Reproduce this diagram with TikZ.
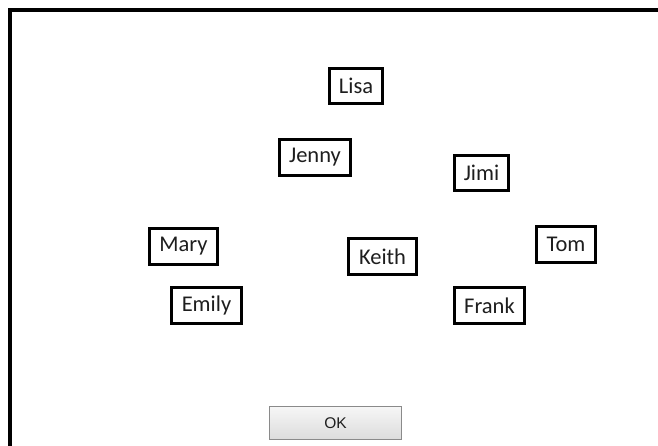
\documentclass[tikz,border=0pt]{standalone}
\usepackage{fontspec}
\setmainfont{Carlito}
\newfontfamily\btnfont{Liberation Sans}
\definecolor{txt}{HTML}{1E1E1E}
\definecolor{btnedge}{HTML}{8A8A8A}
\definecolor{btntop}{HTML}{F6F6F6}
\definecolor{btnbot}{HTML}{DCDCDC}
\begin{document}
\begin{tikzpicture}[x=1pt,y=-1pt,
  namebox/.style={draw=black, line width=2.6pt, text=txt, font=\fontsize{22.5}{25}\selectfont, inner sep=0pt, rectangle},
  okbtn/.style={draw=btnedge, line width=1.2pt, top color=btntop, bottom color=btnbot, text=txt, font=\btnfont\fontsize{15.5}{17}\selectfont, inner sep=0pt, minimum width=132pt, minimum height=33pt}
]
\useasboundingbox (0,0) rectangle (658,446);
\fill[white] (0,0) rectangle (658,446);
\draw[line width=3.4pt] (9.8,450) -- (9.8,10.2) -- (662,10.2);

\node[namebox, minimum width=53.5pt, minimum height=35.5pt] (lisa)  at (356,86)    {Lisa};
\node[namebox, minimum width=71.5pt, minimum height=36.5pt] (jenny) at (315,157.5) {Jenny};
\node[namebox, minimum width=54.5pt, minimum height=35.5pt] (jimi)  at (481.5,173) {Jimi};
\node[namebox, minimum width=68.5pt, minimum height=36.5pt] (mary)  at (183.5,246.5) {Mary};
\node[namebox, minimum width=68.5pt, minimum height=36.5pt] (keith) at (382.5,256.5) {Keith};
\node[namebox, minimum width=59.5pt, minimum height=36.5pt] (tom)   at (566,244.5) {Tom};
\node[namebox, minimum width=70.5pt, minimum height=36.5pt] (emily) at (206.5,305.5) {Emily};
\node[namebox, minimum width=70.5pt, minimum height=36.5pt] (frank) at (489.5,305.5) {Frank};

\node[okbtn] (ok) at (335.5,423) {OK};
\end{tikzpicture}
\end{document}
